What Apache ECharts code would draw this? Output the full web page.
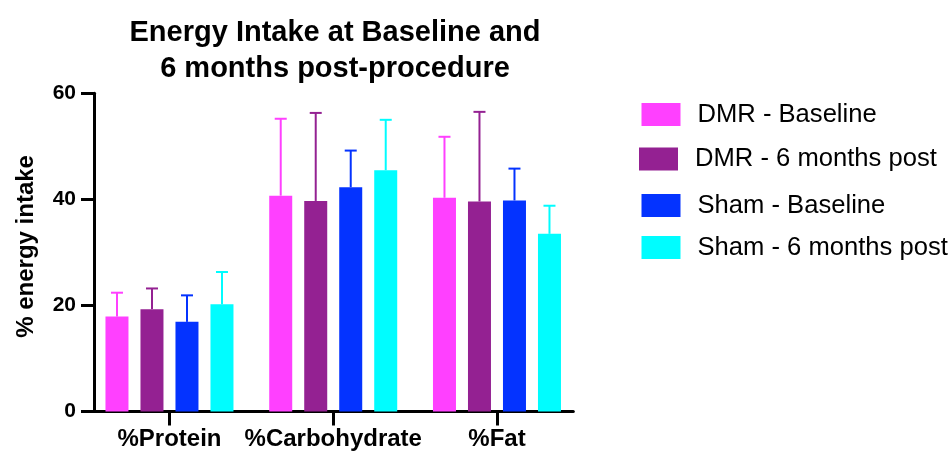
<!DOCTYPE html>
<html>
<head>
<meta charset="utf-8">
<script src="https://cdn.jsdelivr.net/npm/echarts@6/dist/echarts.min.js"></script>
<style>
html,body{margin:0;padding:0;background:#fff;}
#chart{width:952px;height:455px;}
</style>
</head>
<body>
<div id="chart"></div>
<script>
var categories = ['%Protein', '%Carbohydrate', '%Fat'];
var seriesNames = ['DMR - Baseline', 'DMR - 6 months post', 'Sham - Baseline', 'Sham - 6 months post'];
var dmrBaseline = [17.9, 40.7, 40.3];
var dmrBaselineSD = [4.5, 14.5, 11.5];
var dmrPost = [19.3, 39.7, 39.6];
var dmrPostSD = [3.9, 16.6, 16.9];
var shamBaseline = [16.9, 42.3, 39.8];
var shamBaselineSD = [5.0, 6.9, 6.0];
var shamPost = [20.2, 45.5, 33.5];
var shamPostSD = [6.1, 9.5, 5.3];
var yTicks = [0, 20, 40, 60];

var means = [dmrBaseline, dmrPost, shamBaseline, shamPost];
var sds = [dmrBaselineSD, dmrPostSD, shamBaselineSD, shamPostSD];
var colors = ['#FF40FF', '#942192', '#0433FF', '#00FDFF'];
var FONT = '"Liberation Sans", Arial, Helvetica, sans-serif';
var BAR_W = 23, BAR_GAP = 12;

var chart = echarts.init(document.getElementById('chart'), null, {renderer: 'canvas'});

var series = [];
means.forEach(function (m, i) {
  series.push({
    name: seriesNames[i],
    type: 'bar',
    xAxisIndex: 0, yAxisIndex: 0,
    barWidth: BAR_W,
    barGap: (BAR_GAP / BAR_W * 100) + '%',
    itemStyle: {color: colors[i]},
    data: m,
    z: 2
  });
});
means.forEach(function (m, i) {
  series.push({
    type: 'custom',
    xAxisIndex: 0, yAxisIndex: 0,
    z: 3,
    data: m.map(function (v, k) { return [k, v, sds[i][k]]; }),
    renderItem: function (params, api) {
      var c = api.value(0), mean = api.value(1), sd = api.value(2);
      var base = api.coord([c, mean]);
      var top = api.coord([c, mean + sd]);
      var x = base[0] + (i - 1.5) * (BAR_W + BAR_GAP);
      var capHalf = 6;
      return {
        type: 'group',
        children: [
          {type: 'line', shape: {x1: x, y1: base[1], x2: x, y2: top[1]},
           style: {stroke: colors[i], lineWidth: 2}},
          {type: 'line', shape: {x1: x - capHalf, y1: top[1], x2: x + capHalf, y2: top[1]},
           style: {stroke: colors[i], lineWidth: 2}}
        ]
      };
    }
  });
});

var legends = [
  {name: seriesNames[0], left: 641.5, top: 101.5},
  {name: seriesNames[1], left: 639, top: 146},
  {name: seriesNames[2], left: 641.5, top: 192.5},
  {name: seriesNames[3], left: 641.5, top: 234.5}
].map(function (l) {
  return {
    data: [l.name],
    left: l.left, top: l.top,
    padding: 0,
    itemWidth: 39, itemHeight: 23,
    icon: 'rect',
    selectedMode: false,
    textStyle: {fontFamily: FONT, fontSize: 25.6, color: '#000', lineHeight: 23, padding: [0, 0, 0, 12]}
  };
});

var option = {
  animation: false,
  backgroundColor: '#fff',
  title: {
    text: 'Energy Intake at Baseline and\n6 months post-procedure',
    left: 330, top: 10,
    textAlign: 'center',
    textStyle: {fontFamily: FONT, fontSize: 29, fontWeight: 'bold', color: '#000', lineHeight: 36}
  },
  legend: legends,
  grid: [
    {left: 87.6, width: 491.25, top: 93.3, bottom: 43.5},
    {left: 94, width: 479.3, top: 93.3, bottom: 43.5}
  ],
  xAxis: [
    {
      type: 'category', gridIndex: 0, data: categories,
      axisLine: {show: false},
      axisTick: {show: true, alignWithLabel: true, length: 14, lineStyle: {color: '#000', width: 3}},
      axisLabel: {interval: 0, fontFamily: FONT, fontSize: 24, fontWeight: 'bold', color: '#000', margin: 16},
      splitLine: {show: false}
    },
    {
      type: 'category', gridIndex: 1, data: categories,
      axisLine: {show: true, lineStyle: {color: '#000', width: 3}},
      axisTick: {show: false}, axisLabel: {show: false}, splitLine: {show: false}
    }
  ],
  yAxis: [
    {type: 'value', gridIndex: 0, min: yTicks[0], max: yTicks[yTicks.length - 1], interval: 20, show: false},
    {
      type: 'value', gridIndex: 1, min: yTicks[0], max: yTicks[yTicks.length - 1], interval: 20,
      name: '% energy intake', nameLocation: 'middle', nameGap: 56,
      nameTextStyle: {fontFamily: FONT, fontSize: 24, fontWeight: 'bold', color: '#000', padding: [0, 0, 0, 12]},
      axisLine: {show: true, lineStyle: {color: '#000', width: 3}},
      axisTick: {show: true, length: 13, lineStyle: {color: '#000', width: 3}},
      axisLabel: {fontFamily: FONT, fontSize: 21, fontWeight: 'bold', color: '#000', margin: 18},
      splitLine: {show: false}
    }
  ],
  series: series
};
chart.setOption(option);
</script>
</body>
</html>
